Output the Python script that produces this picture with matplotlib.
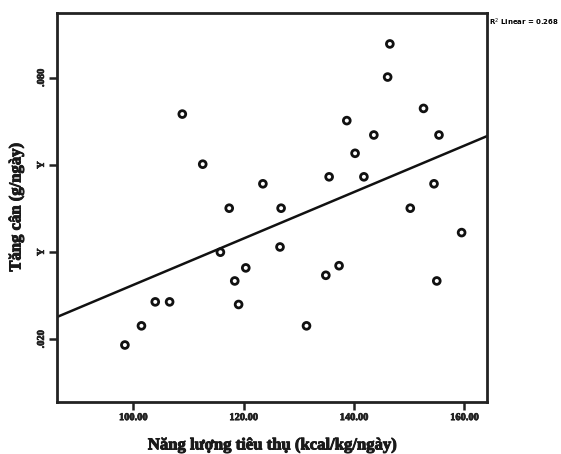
import numpy as np
import matplotlib
matplotlib.use("Agg")
import matplotlib.pyplot as plt
import matplotlib.patheffects as pe

# Data
energy = [108.9, 112.6, 123.5, 117.4, 126.8, 115.8, 126.6, 120.4, 118.4, 119.1,
          104.0, 106.6, 101.5, 98.5, 146.5, 146.1, 152.6, 138.7, 143.6, 155.4,
          140.2, 135.5, 141.8, 154.5, 150.2, 159.5, 137.3, 134.9, 155.0, 131.4]
gain = [0.0717, 0.0602, 0.0557, 0.0501, 0.0501, 0.0400, 0.0412, 0.0364, 0.0334, 0.0280,
        0.0286, 0.0286, 0.0231, 0.0187, 0.0878, 0.0802, 0.0730, 0.0702, 0.0669, 0.0669,
        0.0627, 0.0573, 0.0573, 0.0557, 0.0501, 0.0445, 0.0369, 0.0347, 0.0334, 0.0231]

xticks = [100, 120, 140, 160]
xtick_labels = ["100.00", "120.00", "140.00", "160.00"]
yticks = [0.02, 0.04, 0.06, 0.08]
ytick_labels = [".020", "Y", "Y", ".080"]

serif = ["Liberation Serif", "DejaVu Serif"]
heavy = [pe.withStroke(linewidth=0.7, foreground="#1a1a1a")]

fig = plt.figure(figsize=(5.61, 4.54), dpi=100)
ax = fig.add_axes([57 / 561, 1 - 402 / 454, 430 / 561, 389 / 454])

ax.scatter(energy, gain, s=24, facecolors="none", edgecolors="#111111", linewidths=2, zorder=3)

xlim = (86.2, 164.1)
slope, intercept = np.polyfit(energy, gain, 1)
xs = np.array(xlim)
ax.plot(xs, slope * xs + intercept, color="#111111", linewidth=1.8)

r = np.corrcoef(energy, gain)[0, 1]

ax.set_xlim(*xlim)
ax.set_ylim(0.00562, 0.0949)
ax.set_xticks(xticks)
ax.set_xticklabels(xtick_labels, fontsize=7.5, fontweight="bold", family=serif, color="#1a1a1a")
ax.set_yticks(yticks)
ax.set_yticklabels(ytick_labels, fontsize=7.5, fontweight="bold", family=serif,
                   rotation=90, va="center", color="#1a1a1a")
for t in ax.get_xticklabels() + ax.get_yticklabels():
    t.set_path_effects([pe.withStroke(linewidth=0.5, foreground="#1a1a1a")])

for s in ax.spines.values():
    s.set_linewidth(2)
    s.set_color("#222222")
ax.tick_params(direction="out", length=6, width=1.8, colors="#222222", pad=2)

ax.set_xlabel("Năng lượng tiêu thụ (kcal/kg/ngày)", fontsize=12, fontweight="bold",
              family=serif, labelpad=11, color="#1a1a1a", path_effects=heavy)
ax.set_ylabel("Tăng cân (g/ngày)", fontsize=12, fontweight="bold", family=serif,
              labelpad=9, color="#1a1a1a", path_effects=heavy)

fig.text(489 / 561, 1 - 22 / 454, "R$^2$ Linear = %.3f" % (r ** 2), fontsize=5,
         fontweight="bold", ha="left", va="center")

fig.savefig("out.png", dpi=100)
